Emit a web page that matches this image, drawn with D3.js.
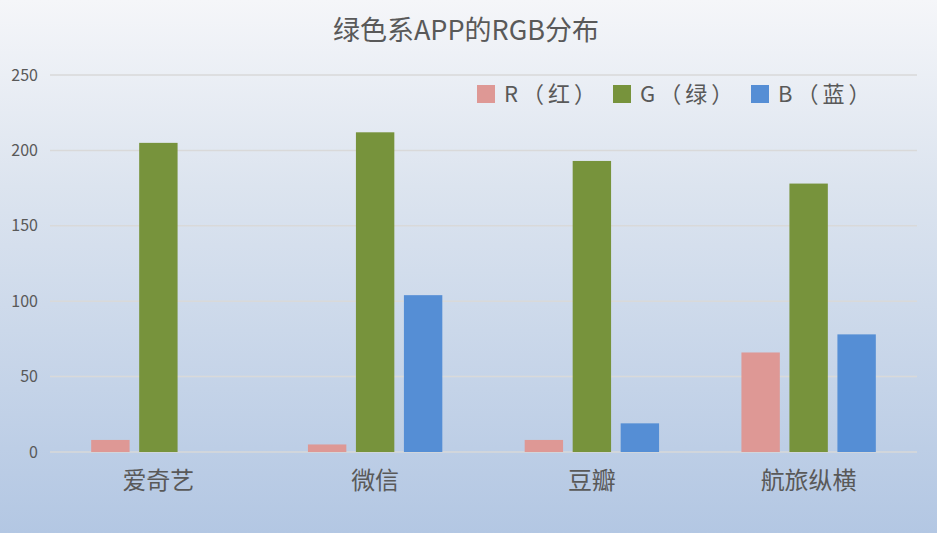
<!DOCTYPE html>
<html><head><meta charset="utf-8">
<script src="https://cdn.jsdelivr.net/npm/d3@7/dist/d3.min.js"></script>
<style>html,body{margin:0;padding:0;overflow:hidden}svg{display:block}</style>
</head><body>
<script>
const categories = ["爱奇艺", "微信", "豆瓣", "航旅纵横"];
const seriesNames = ["R（红）", "G（绿）", "B（蓝）"];
const rValues = [8, 5, 8, 66];
const gValues = [205, 212, 193, 178];
const bValues = [0, 104, 19, 78];
const yTicks = [0, 50, 100, 150, 200, 250];
const colors = ["#DE9895", "#77933C", "#558ED5"];
const title = "绿色系APP的RGB分布";

const W = 937, H = 533;
const font = "'Noto Sans CJK SC', 'Noto Sans', sans-serif";
const margin = {left: 50, right: 20, top: 75, bottom: 81};
const svg = d3.select("body").append("svg").attr("width", W).attr("height", H);

const defs = svg.append("defs");
const grad = defs.append("linearGradient").attr("id", "bg").attr("x1", 0).attr("y1", 0).attr("x2", 0).attr("y2", 1);
grad.append("stop").attr("offset", "0%").attr("stop-color", "#F5F6F9");
grad.append("stop").attr("offset", "35%").attr("stop-color", "#DCE4EF");
grad.append("stop").attr("offset", "100%").attr("stop-color", "#B3C7E3");
svg.append("rect").attr("width", W).attr("height", H).attr("fill", "url(#bg)");

const x0 = d3.scaleBand().domain(categories).range([margin.left, W - margin.right]).paddingInner(0.38).paddingOuter(0.19);
const x1 = d3.scaleBand().domain(seriesNames).range([0, x0.bandwidth()]).paddingInner(0.2);
const y = d3.scaleLinear().domain([0, 250]).range([H - margin.bottom, margin.top]);

// gridlines
svg.append("g").selectAll("line").data(yTicks).join("line")
  .attr("x1", margin.left).attr("x2", W - margin.right)
  .attr("y1", d => y(d)).attr("y2", d => y(d))
  .attr("stroke", "#D9D9D9").attr("stroke-width", 1.5);

// y axis labels
const yAxis = d3.axisLeft(y).tickValues(yTicks).tickSize(0).tickPadding(12);
const ya = svg.append("g").attr("transform", `translate(${margin.left},0)`).call(yAxis);
ya.select(".domain").remove();
ya.selectAll("text").attr("font-family", font).attr("font-size", 16).attr("fill", "#595959");

const seriesValues = [rValues, gValues, bValues];
const data = categories.map((c, i) => ({cat: c, vals: seriesNames.map((s, j) => ({s, v: seriesValues[j][i], c: colors[j]}))}));

const groups = svg.append("g").selectAll("g").data(data).join("g")
  .attr("transform", d => `translate(${x0(d.cat)},0)`);
groups.selectAll("rect").data(d => d.vals).join("rect")
  .attr("x", d => x1(d.s)).attr("width", x1.bandwidth())
  .attr("y", d => y(d.v)).attr("height", d => y(0) - y(d.v))
  .attr("fill", d => d.c);

// x axis labels
const xAxis = d3.axisBottom(x0).tickSize(0).tickPadding(20);
const xa = svg.append("g").attr("transform", `translate(0,${y(0)})`).call(xAxis);
xa.select(".domain").remove();
xa.selectAll("text").attr("font-family", font).attr("font-size", 24).attr("fill", "#595959");

// title
svg.append("text").attr("x", 466).attr("y", 40).attr("text-anchor", "middle")
  .attr("font-family", font).attr("font-size", 27).attr("fill", "#595959").text(title);

// legend
const legendX = [477, 613, 751];
const lg = svg.append("g").selectAll("g").data(seriesNames).join("g")
  .attr("transform", (d, i) => `translate(${legendX[i]},85)`);
lg.append("rect").attr("width", 18).attr("height", 18).attr("fill", (d, i) => colors[i]);
lg.append("text").attr("x", 27).attr("y", 17).attr("font-family", font).attr("font-size", 22)
  .attr("letter-spacing", 4)
  .attr("fill", "#595959").text(d => d);
</script>
</body></html>
